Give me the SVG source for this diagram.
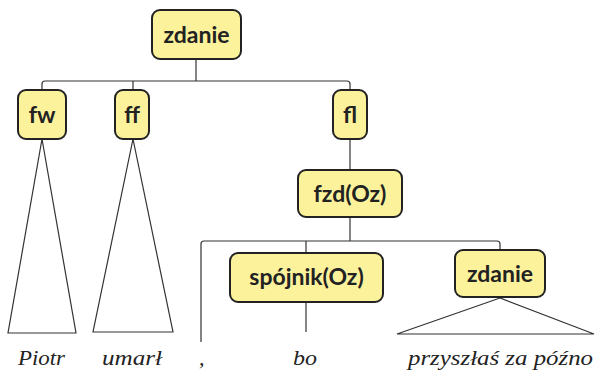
<svg xmlns="http://www.w3.org/2000/svg" width="595" height="373" viewBox="0 0 595 373">
<style>
.box{fill:#fdf29c;stroke:#222;stroke-width:2}
.lbl{font-family:Lato,"Open Sans",sans-serif;font-weight:bold;font-size:23px;fill:#222;text-anchor:middle}
.con{fill:none;stroke:#333;stroke-width:1.2}
.word{font-family:"Liberation Serif","DejaVu Serif",serif;font-style:italic;font-size:22px;fill:#222}
</style>
<g id="connectors">
<path class="con" d="M196 59V81"/>
<path class="con" d="M42 90V84Q42 81 45 81H347Q350 81 350 84V90"/>
<path class="con" d="M133 81V90"/>
<path class="con" d="M350 139V170"/>
<path class="con" d="M350 217V241"/>
<path class="con" d="M201 342V244Q201 241 204 241H497Q500 241 500 244V250"/>
<path class="con" d="M306 241V253"/>
<path class="con" d="M306 302V332"/>
<path class="con" d="M42 139L8 333H76Z"/>
<path class="con" d="M133 139L93 332H173Z"/>
<path class="con" d="M500 298L397 334H594Z"/>
</g>
<g id="n-zdanie"><rect class="box" x="152" y="10" width="89" height="49" rx="8"/><text class="lbl" x="196.5" y="43">zdanie</text></g>
<g id="n-fw"><rect class="box" x="18" y="90" width="48" height="49" rx="8"/><text class="lbl" x="42" y="123">fw</text></g>
<g id="n-ff"><rect class="box" x="115" y="90" width="34" height="49" rx="8"/><text class="lbl" x="132" y="123">ff</text></g>
<g id="n-fl"><rect class="box" x="333" y="90" width="34" height="49" rx="8"/><text class="lbl" x="350" y="123">fl</text></g>
<g id="n-fzd"><rect class="box" x="298" y="170" width="104" height="47" rx="8"/><text class="lbl" x="350" y="202">fzd(Oz)</text></g>
<g id="n-spojnik"><rect class="box" x="230" y="253" width="153" height="49" rx="8"/><text class="lbl" x="306.5" y="285">spójnik(Oz)</text></g>
<g id="n-zdanie2"><rect class="box" x="455" y="250" width="90" height="47" rx="8"/><text class="lbl" x="500" y="282">zdanie</text></g>
<g id="words">
<text class="word" x="18" y="365" textLength="47" lengthAdjust="spacingAndGlyphs">Piotr</text>
<text class="word" x="102" y="365" textLength="60" lengthAdjust="spacingAndGlyphs">umarł</text>
<text class="word" x="199" y="365">,</text>
<text class="word" x="293" y="365" textLength="24" lengthAdjust="spacingAndGlyphs">bo</text>
<text class="word" x="408" y="365" textLength="185" lengthAdjust="spacingAndGlyphs">przyszłaś za późno</text>
</g>
</svg>
